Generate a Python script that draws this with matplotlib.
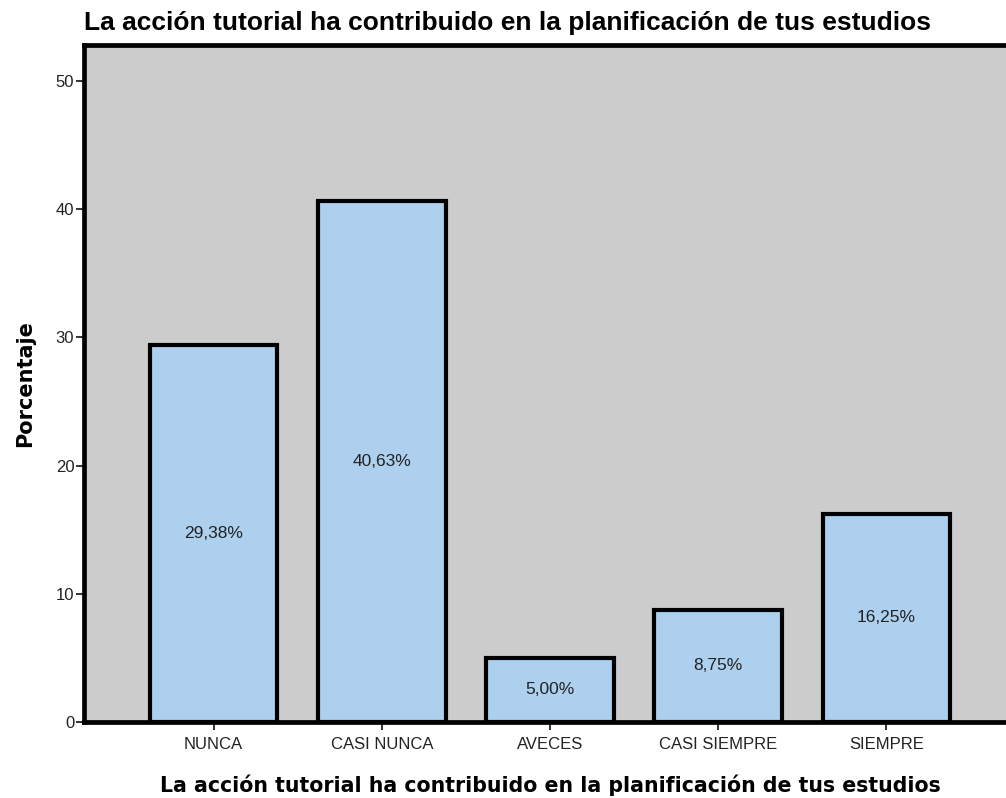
import matplotlib.pyplot as plt
import numpy as np

categorias = ["NUNCA", "CASI NUNCA", "AVECES", "CASI SIEMPRE", "SIEMPRE"]
porcentajes = [29.38, 40.63, 5.00, 8.75, 16.25]
etiquetas = ["29,38%", "40,63%", "5,00%", "8,75%", "16,25%"]
titulo = "La acción tutorial ha contribuido en la planificación de tus estudios"

fig = plt.figure(figsize=(10.06, 7.98), dpi=100)
ax = fig.add_axes([84/1006, 1 - 722/798, 932/1006, 677/798])
ax.set_facecolor("#cccccc")

x = np.arange(len(categorias))
bars = ax.bar(x, porcentajes, width=0.76, color="#acd0ee", edgecolor="black", linewidth=3.0, zorder=3)
ax.bar_label(bars, labels=etiquetas, label_type="center", fontsize=12.5,
             family="Liberation Sans", color="#222222")

ax.set_xlim(-0.77, 4.77)
ax.set_ylim(0, 52.8)
ax.set_yticks([0, 10, 20, 30, 40, 50])
ax.set_xticks(x, categorias)
ax.tick_params(axis="both", direction="out", length=6, width=1.3, labelsize=12, colors="#222222")
ax.tick_params(axis="x", pad=5)
ax.tick_params(axis="y", pad=1)
for lab in ax.get_xticklabels() + ax.get_yticklabels():
    lab.set_family("Liberation Sans")

for s in ["left", "bottom", "top"]:
    ax.spines[s].set_linewidth(3.4)
ax.spines["right"].set_visible(False)

ax.set_title(titulo, loc="left", fontsize=19, fontweight="bold", family="Liberation Sans", pad=11)
ax.set_xlabel(titulo, fontsize=14.8, fontweight="bold", labelpad=16)
ax.set_ylabel("Porcentaje", fontsize=15, fontweight="bold", labelpad=15)

fig.savefig("out.png", dpi=100)
